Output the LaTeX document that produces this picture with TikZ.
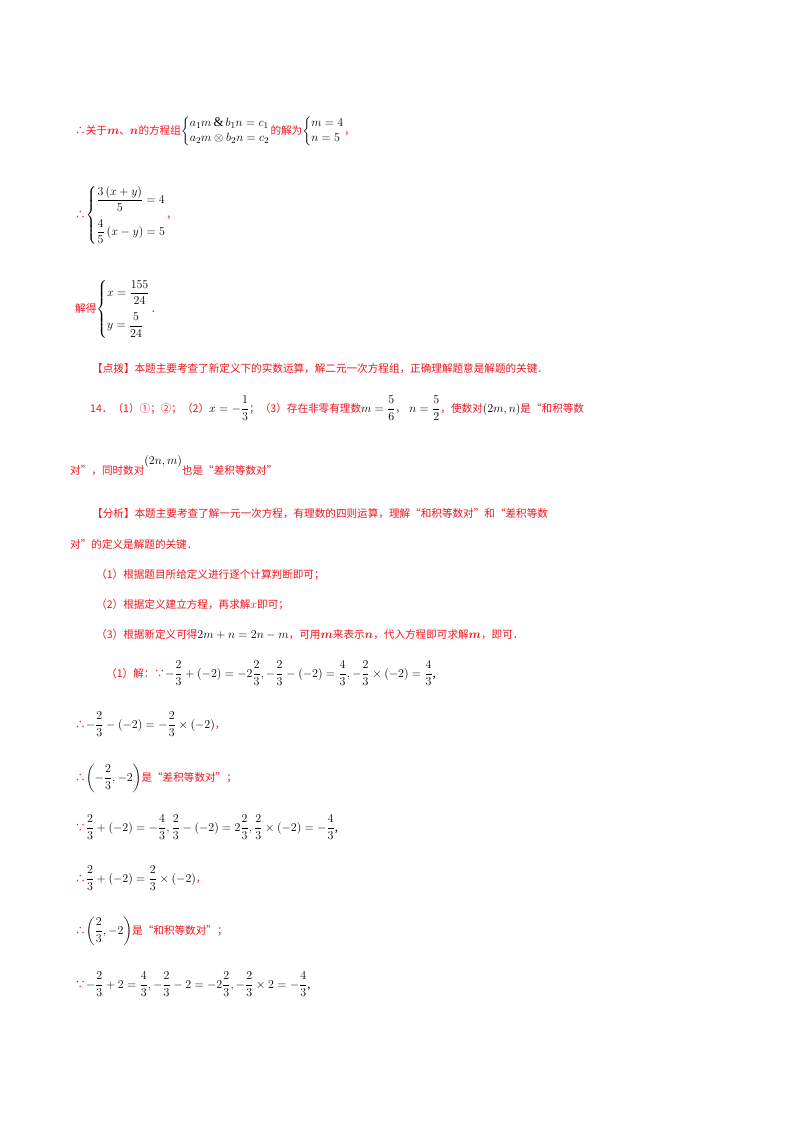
\documentclass[tikz,border=0pt]{standalone}
\usepackage{amsmath}
\usepackage{fontspec}
\setmainfont{Liberation Serif}
\newfontfamily\cjk{Noto Sans CJK SC}
\definecolor{rd}{RGB}{240,20,30}
\newcommand{\R}[1]{\textcolor{rd}{\fontsize{10.6}{13}\selectfont\cjk #1}}
\begin{document}
\begin{tikzpicture}[x=1pt,y=-1pt,
  tx/.style={anchor=base west,inner sep=0pt,font=\fontsize{13}{15}\selectfont}]
\useasboundingbox[fill=white] (0,0) rectangle (800,1132);
\node[tx] (l1) at (75,134) {\R{∴关于}\textcolor{rd}{$\boldsymbol{m}$}\R{、}\textcolor{rd}{$\boldsymbol{n}$}\R{的方程组}$\left\{\begin{array}{@{}l@{}}a_1m\,\&\,b_1n=c_1\\ a_2m\otimes b_2n=c_2\end{array}\right.$\R{的解为}$\left\{\begin{array}{@{}l@{}}m=4\\ n=5\end{array}\right.$\R{，}};
\node[tx] (l2) at (75,218) {\R{∴}$\left\{\begin{array}{@{}l@{}}\dfrac{3\left(x+y\right)}{5}=4\\[2ex] \dfrac{4}{5}\left(x-y\right)=5\end{array}\right.$\R{，}};
\node[tx] (l3) at (75,312) {\R{解得}$\left\{\begin{array}{@{}l@{}}x=\dfrac{155}{24}\\[2ex] y=\dfrac{5}{24}\end{array}\right.$\R{．}};
\node[tx] (l4) at (92,372) {\R{【点拨】本题主要考查了新定义下的实数运算，解二元一次方程组，正确理解题意是解题的关键．}};
\node[tx] (l5) at (90,412) {\R{14．（1）①；②；（2）}$x=-\dfrac{1}{3}$\R{；（3）存在非零有理数}$m=\dfrac{5}{6}$\R{，}$\;n=\dfrac{5}{2}$\R{，使数对}$\left(2m,n\right)$\R{是“和积等数}};
\node[tx] (l6) at (70,474) {\R{对”，同时数对}\raisebox{1.6ex}{$\left(2n,m\right)$}\R{也是“差积等数对”}};
\node[tx] (l7) at (92,517) {\R{【分析】本题主要考查了解一元一次方程，有理数的四则运算，理解“和积等数对”和“差积等数}};
\node[tx] (l8) at (70,548) {\R{对”的定义是解题的关键．}};
\node[tx] (l9) at (96,578) {\R{（1）根据题目所给定义进行逐个计算判断即可；}};
\node[tx] (l10) at (96,608) {\R{（2）根据定义建立方程，再求解}\textcolor{rd}{$x$}\R{即可；}};
\node[tx] (l11) at (96,638) {\R{（3）根据新定义可得}$2m+n=2n-m$\R{，可用}\textcolor{rd}{$\boldsymbol{m}$}\R{来表示}\textcolor{rd}{$\boldsymbol{n}$}\R{，代入方程即可求解}\textcolor{rd}{$\boldsymbol{m}$}\R{，即可．}};
\node[tx] (l12) at (106,677) {\R{（1）解：∵}$-\dfrac{2}{3}+\left(-2\right)=-2\dfrac{2}{3},-\dfrac{2}{3}-\left(-2\right)=\dfrac{4}{3},-\dfrac{2}{3}\times\left(-2\right)=\dfrac{4}{3}$,};
\node[tx] (l13) at (75,728) {\R{∴}$-\dfrac{2}{3}-\left(-2\right)=-\dfrac{2}{3}\times\left(-2\right)$\R{，}};
\node[tx] (l14) at (75,781) {\R{∴}$\left(-\dfrac{2}{3},-2\right)$\R{是“差积等数对”；}};
\node[tx] (l15) at (75,831) {\R{∵}$\dfrac{2}{3}+\left(-2\right)=-\dfrac{4}{3},\dfrac{2}{3}-\left(-2\right)=2\dfrac{2}{3},\dfrac{2}{3}\times\left(-2\right)=-\dfrac{4}{3}$,};
\node[tx] (l16) at (75,882) {\R{∴}$\dfrac{2}{3}+\left(-2\right)=\dfrac{2}{3}\times\left(-2\right)$\R{，}};
\node[tx] (l17) at (75,934) {\R{∴}$\left(\dfrac{2}{3},-2\right)$\R{是“和积等数对”；}};
\node[tx] (l18) at (75,988) {\R{∵}$-\dfrac{2}{3}+2=\dfrac{4}{3},-\dfrac{2}{3}-2=-2\dfrac{2}{3},-\dfrac{2}{3}\times2=-\dfrac{4}{3}$,};
\end{tikzpicture}
\end{document}
